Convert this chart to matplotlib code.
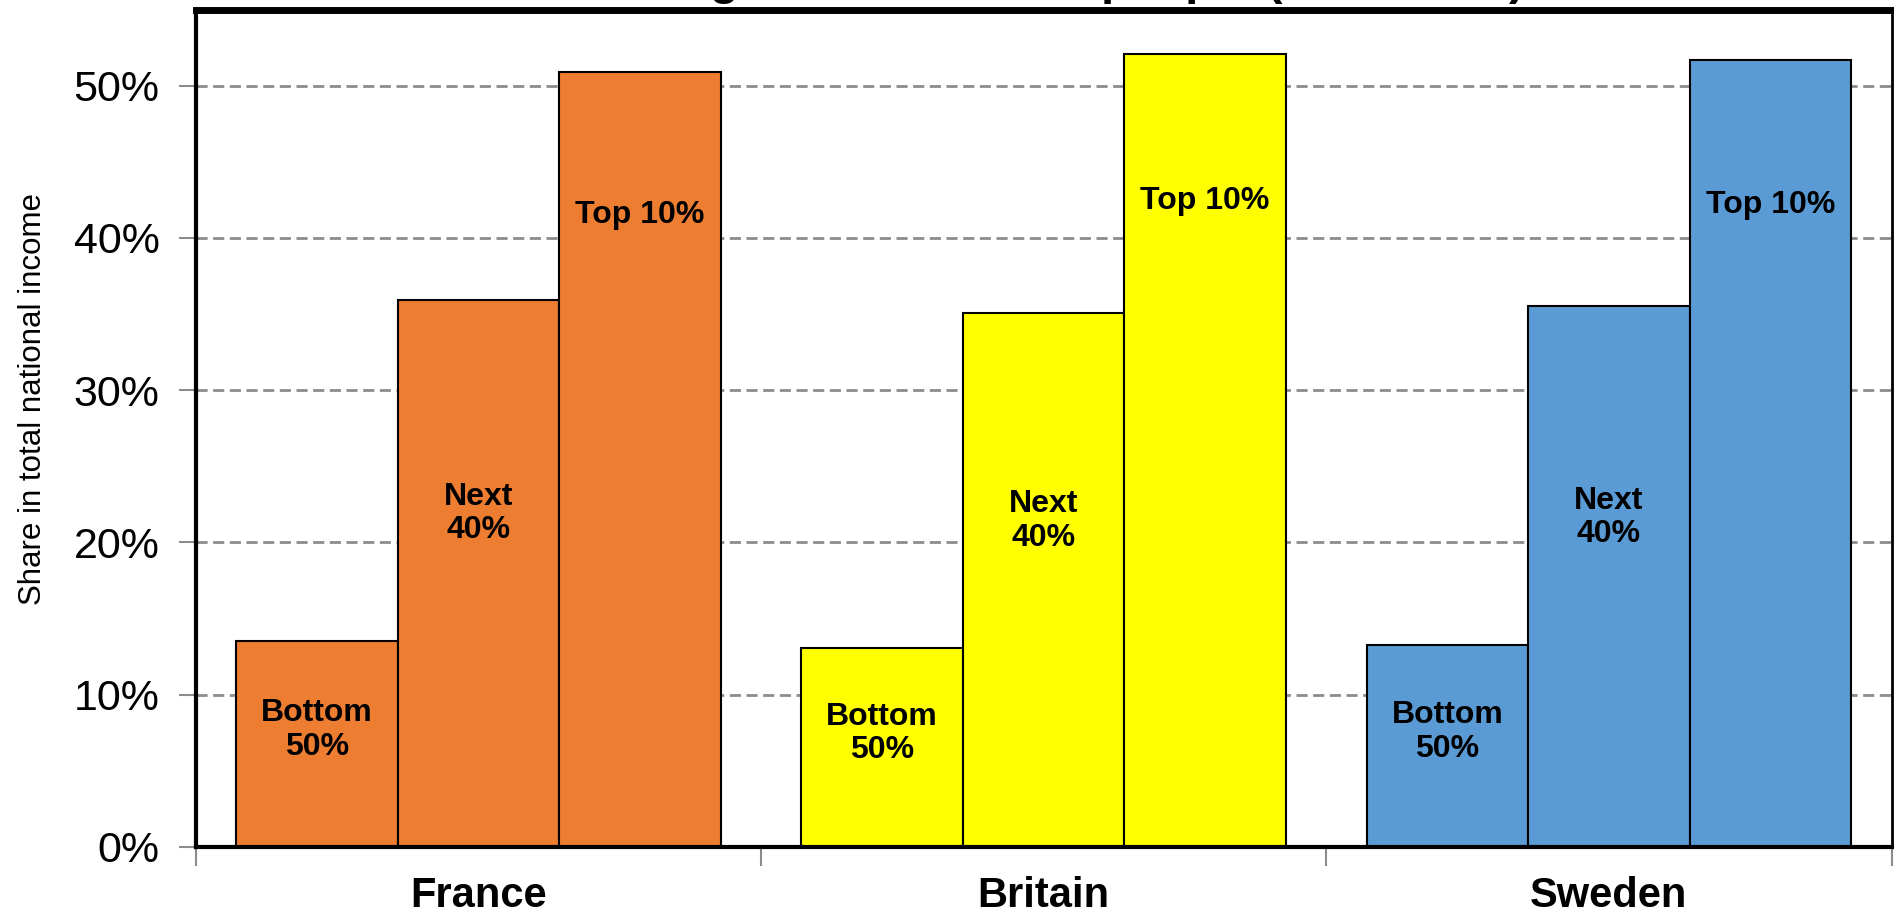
import matplotlib
matplotlib.use('Agg')
import matplotlib.pyplot as plt
from matplotlib.ticker import FuncFormatter
import numpy as np

plt.rcParams['font.family'] = ['Liberation Sans', 'DejaVu Sans']

countries = ["France", "Britain", "Sweden"]
groups = ["Bottom\n50%", "Next\n40%", "Top 10%"]
bottom50 = [13.5, 13.1, 13.25]
next40 = [35.9, 35.1, 35.5]
top10 = [50.9, 52.1, 51.7]
colors = ["#ED7D31", "#FFFF00", "#5B9BD5"]
title = "Earning shares of adult people (1980-2016)"

# where the label sits, as a share of the bar height
label_frac = [0.57, 0.61, 0.815]


def draw():
  fig = plt.figure(figsize=(18.94, 9.17), dpi=100)
  ax = fig.add_axes([0.1033, 0.0764, 0.8954, 0.9131])

  x = np.arange(len(countries))
  w = 1 / 3.5
  series = [bottom50, next40, top10]
  for i in range(len(countries)):
    for j, vals in enumerate(series):
      xpos = x[i] + (j - 1) * w
      ax.bar(xpos, vals[i], w, color=colors[i], edgecolor="black", linewidth=1.5, zorder=2)
      ax.text(xpos, vals[i] * label_frac[j], groups[j], ha="center", va="center",
              fontsize=23, fontweight="bold", linespacing=1.15, zorder=3)

  ax.set_xlim(-0.5, 2.5)
  ax.set_ylim(0, 55)
  ax.set_yticks(range(0, 51, 10))
  ax.yaxis.set_major_formatter(FuncFormatter(lambda v, p: "%d%%" % v))
  ax.tick_params(axis="y", labelsize=31, length=12, width=1.5, color="#8c8c8c", pad=14)

  # tick marks between countries, names in the middle
  ax.set_xticks([-0.5, 0.5, 1.5, 2.5])
  ax.set_xticklabels([])
  ax.set_xticks(x, minor=True)
  ax.set_xticklabels(countries, minor=True, fontsize=30, fontweight="bold")
  ax.tick_params(axis="x", which="major", length=14, width=1.5, color="#8c8c8c")
  ax.tick_params(axis="x", which="minor", length=0, pad=21)

  ax.set_ylabel("Share in total national income", fontsize=22.5)
  ax.yaxis.set_label_coords(-0.087, 0.535)

  ax.yaxis.grid(True, linestyle=(0, (4, 2)), color="#8c8c8c", linewidth=2)
  ax.set_axisbelow(True)

  ax.spines["top"].set_linewidth(5)
  ax.spines["left"].set_linewidth(3)
  ax.spines["bottom"].set_linewidth(3)
  ax.spines["right"].set_linewidth(2)

  # title sits above the canvas, only its lower edge shows
  fig.text(0.551, 1.006, title, ha="center", va="baseline", fontsize=34, fontweight="bold")

  plt.savefig("out.png", dpi=100)


if __name__ == "__main__":
  draw()
